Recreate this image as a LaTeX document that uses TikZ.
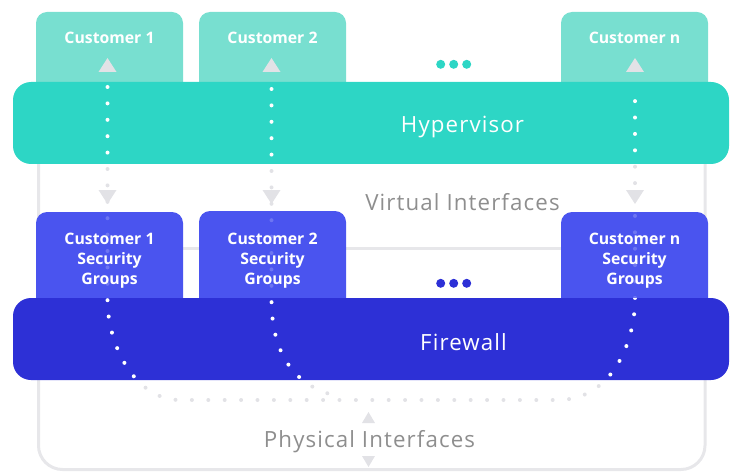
\documentclass[tikz,border=0pt]{standalone}
\usepackage{fontspec}
\setmainfont{Open Sans}
\definecolor{custteal}{HTML}{78DFD0}
\definecolor{hyperteal}{HTML}{2DD6C5}
\definecolor{sgblue}{HTML}{4A54EF}
\definecolor{fwblue}{HTML}{2D30D6}
\definecolor{framegray}{HTML}{E7E7EA}
\definecolor{dotgray}{HTML}{E2E2E6}
\definecolor{textgray}{HTML}{8E8E8E}
\definecolor{faintdot}{HTML}{6D75F2}
\tikzset{
  tilebox/.style={fill=#1, rounded corners=11pt, inner sep=0pt, outer sep=0pt,
    anchor=north west, minimum width=147pt},
  bandbox/.style={fill=#1, rounded corners=18pt, inner sep=0pt, outer sep=0pt,
    anchor=north west, minimum width=716pt, minimum height=82pt},
  framerule/.style={draw=framegray, line width=3pt, rounded corners=24pt},
  dotline/.style={line width=4pt, line cap=round, dash pattern=on 0pt off 16.4pt},
  tilelabel/.style={text=white, font=\bfseries\fontsize{15.8}{20}\selectfont,
    inner sep=0pt, align=center},
  biglabel/.style={font=\fontsize{22.3}{26}\selectfont\addfontfeatures{LetterSpace=5},
    inner sep=0pt, anchor=base},
  uptri/.pic={\fill[dotgray] (-9,7) -- (9,7) -- (0,-7) -- cycle;},
  downtri/.pic={\fill[dotgray] (-9,-7) -- (9,-7) -- (0,7) -- cycle;},
  smallup/.pic={\fill[dotgray] (-6.5,5.5) -- (6.5,5.5) -- (0,-5.5) -- cycle;},
  smalldown/.pic={\fill[dotgray] (-6.5,-5.5) -- (6.5,-5.5) -- (0,5.5) -- cycle;},
}
% the three traffic paths: two customers merging on the physical line
\newcommand\tracepaths[1]{%
  \draw[dotline,#1] (p1top) -- (p1bend) .. controls +(0,45) and +(-45,0) .. (p1foot)
    -- (pnfoot) .. controls +(55,0) and +(0,40) .. (pnbend) -- (pntop);
  \draw[dotline,#1] (p2top) -- (p2bend) .. controls +(0,45) and +(-45,-12) .. (p2foot);
}
\begin{document}
\begin{tikzpicture}[x=1pt,y=-1pt]
\useasboundingbox (0,0) rectangle (730,473);

% host frame
\draw[framerule] (38.5,120) -- (38.5,469.5) -- (705,469.5) -- (705,120);
\draw[framerule] (38.5,248) -- (705,248);

% waypoints of the traffic paths
\coordinate (p1top) at (107.5,87);
\coordinate (p1bend) at (107.5,300);
\coordinate (p1foot) at (180,400);
\coordinate (pnfoot) at (558,400);
\coordinate (pnbend) at (635,300);
\coordinate (pntop) at (635,87);
\coordinate (p2top) at (271.5,89);
\coordinate (p2bend) at (271.5,300);
\coordinate (p2foot) at (333,395);

\tracepaths{dotgray}

% customer machines
\node[tilebox=custteal, minimum height=90pt] (cust1) at (36,12) {};
\node[tilebox=custteal, minimum height=90pt] (cust2) at (199,12) {};
\node[tilebox=custteal, minimum height=90pt] (custn) at (561,12) {};
\node[tilelabel, anchor=base] (cust1lab) at (109.5,43.5) {Customer 1};
\node[tilelabel, anchor=base] (cust2lab) at (272.5,43.5) {Customer 2};
\node[tilelabel, anchor=base] (custnlab) at (634.5,43.5) {Customer n};
\pic at (107.5,65) {uptri};
\pic at (271.5,65) {uptri};
\pic at (635,65) {uptri};
\foreach \x in {440.7,453.7,466.7} \fill[hyperteal] (\x,64.3) circle (4.5);

% hypervisor band
\node[bandbox=hyperteal] (hyp) at (13,82) {};
\node[biglabel, text=white] (hyplab) at (462.5,132.5) {Hypervisor};
\begin{scope}
  \clip[rounded corners=18pt] (13,82) rectangle (729,164);
  \tracepaths{white}
\end{scope}

\pic at (107.5,197) {downtri};
\pic at (271.5,197) {downtri};
\pic at (635,197) {downtri};
\node[biglabel, text=textgray] (virtlab) at (462.5,210) {Virtual Interfaces};

% security groups
\node[tilebox=sgblue, minimum height=100pt] (sg1) at (36,212) {};
\node[tilebox=sgblue, minimum height=100pt] (sg2) at (199,211) {};
\node[tilebox=sgblue, minimum height=100pt] (sgn) at (561,212) {};
\begin{scope}
  \clip (36,212) rectangle (183,300) (199,211) rectangle (346,300) (561,212) rectangle (708,300);
  \tracepaths{faintdot}
\end{scope}
\node[tilelabel] (sg1lab) at (109.5,261) {Customer 1\\Security\\Groups};
\node[tilelabel] (sg2lab) at (272.5,261) {Customer 2\\Security\\Groups};
\node[tilelabel] (sgnlab) at (634.5,261) {Customer n\\Security\\Groups};
\foreach \x in {440.7,453.7,466.7} \fill[fwblue] (\x,283.3) circle (4.5);

% firewall band
\node[bandbox=fwblue] (fw) at (13,298) {};
\node[biglabel, text=white] (fwlab) at (463.5,350) {Firewall};
\begin{scope}
  \clip[rounded corners=18pt] (13,298) rectangle (729,380);
  \tracepaths{white}
\end{scope}

% physical side
\pic at (368.5,417.5) {smallup};
\pic at (368.5,461.5) {smalldown};
\node[biglabel, text=textgray] (physlab) at (369.5,447) {Physical Interfaces};
\end{tikzpicture}
\end{document}
